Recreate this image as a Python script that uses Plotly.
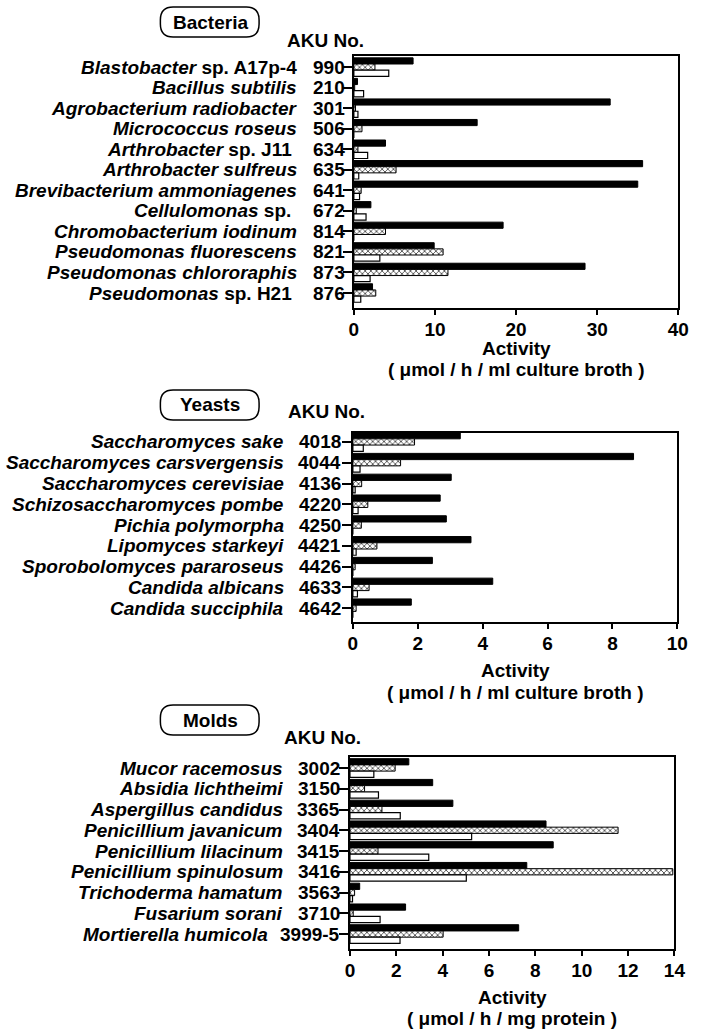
import plotly.graph_objects as go

W, H = 703, 1031

# ---------------- DATA ----------------
bact_italic = ["Blastobacter", "Bacillus subtilis", "Agrobacterium radiobacter", "Micrococcus roseus",
               "Arthrobacter", "Arthrobacter sulfreus", "Brevibacterium ammoniagenes", "Cellulomonas",
               "Chromobacterium iodinum", "Pseudomonas fluorescens", "Pseudomonas chlororaphis", "Pseudomonas"]
bact_suffix = [" sp. A17p-4", "", "", "", " sp. J11 ", "", "", " sp. ", "", "", "", " sp. H21 "]
bact_aku = ["990", "210", "301", "506", "634", "635", "641", "672", "814", "821", "873", "876"]
bact_black = [7.3, 0.45, 31.6, 15.2, 3.9, 35.6, 35.0, 2.1, 18.4, 9.9, 28.5, 2.3]
bact_hatched = [2.6, 0.1, 0.2, 1.0, 0.5, 5.2, 0.9, 0.3, 3.9, 11.0, 11.6, 2.7]
bact_white = [4.3, 1.2, 0.5, 0.0, 1.7, 0.6, 0.7, 1.5, 0.0, 3.2, 2.0, 0.85]

yeast_italic = ["Saccharomyces sake", "Saccharomyces carsvergensis", "Saccharomyces cerevisiae",
                "Schizosaccharomyces pombe", "Pichia polymorpha", "Lipomyces starkeyi",
                "Sporobolomyces pararoseus", "Candida albicans", "Candida succiphila"]
yeast_aku = ["4018", "4044", "4136", "4220", "4250", "4421", "4426", "4633", "4642"]
yeast_black = [3.31, 8.65, 3.03, 2.69, 2.88, 3.64, 2.45, 4.31, 1.80]
yeast_hatched = [1.90, 1.47, 0.27, 0.46, 0.26, 0.74, 0.07, 0.50, 0.10]
yeast_white = [0.32, 0.22, 0.07, 0.16, 0.0, 0.10, 0.0, 0.14, 0.0]

mold_italic = ["Mucor racemosus", "Absidia lichtheimi", "Aspergillus candidus", "Penicillium javanicum",
               "Penicillium lilacinum", "Penicillium spinulosum", "Trichoderma hamatum",
               "Fusarium sorani", "Mortierella humicola"]
mold_aku = ["3002", "3150", "3365", "3404", "3415", "3416", "3563", "3710", "3999-5"]
mold_black = [2.54, 3.57, 4.44, 8.46, 8.77, 7.63, 0.42, 2.40, 7.28]
mold_hatched = [1.95, 0.63, 1.38, 11.57, 1.21, 13.93, 0.20, 0.14, 4.02]
mold_white = [1.03, 1.23, 2.17, 5.25, 3.40, 5.02, 0.11, 1.30, 2.16]

x_ticks_bact = [0, 10, 20, 30, 40]
x_ticks_yeast = [0, 2, 4, 6, 8, 10]
x_ticks_mold = [0, 2, 4, 6, 8, 10, 12, 14]

# ---------------- LAYOUT HELPERS ----------------
FONT = "Liberation Sans"


def px(x):
    return x / W


def py(y):
    return 1 - y / H


panels = [
    dict(key="", group="Bacteria", italic=bact_italic, suffix=bact_suffix, aku=bact_aku,
         vals=(bact_black, bact_hatched, bact_white), xr=[0, 40], xt=x_ticks_bact,
         xdom=(357, 689), ydom=(56, 308), yr=[11.73, -0.54],
         name_x=301, num_x=350, box_cy=22, aku_pos=(328, 40),
         t1=348, t2=369, unit="( μmol / h / ml culture broth )"),
    dict(key="2", group="Yeasts", italic=yeast_italic, suffix=[""] * 9, aku=yeast_aku,
         vals=(yeast_black, yeast_hatched, yeast_white), xr=[0, 10], xt=x_ticks_yeast,
         xdom=(356, 688), ydom=(433, 622), yr=[8.66, -0.43],
         name_x=288, num_x=346, box_cy=405, aku_pos=(329, 411),
         t1=670, t2=692, unit="( μmol / h / ml culture broth )"),
    dict(key="3", group="Molds", italic=mold_italic, suffix=[""] * 9, aku=mold_aku,
         vals=(mold_black, mold_hatched, mold_white), xr=[0, 14], xt=x_ticks_mold,
         xdom=(353, 685), ydom=(757, 949), yr=[8.72, -0.53],
         name_x=287, num_x=345, box_cy=720, aku_pos=(325, 737),
         t1=997, t2=1018, unit="( μmol / h / mg protein )"),
]

fig = go.Figure()
annotations = []
shapes = []
bold = dict(family=FONT, size=19, color="black", weight="bold")

for p in panels:
    k = p["key"]
    xa = "x" + k
    ya = "y" + k
    n = len(p["aku"])
    rows = list(range(n))
    black, hatched, white = p["vals"]
    fig.add_trace(go.Bar(x=black, y=rows, orientation="h", xaxis=xa, yaxis=ya,
                         marker=dict(color="black", line=dict(color="black", width=1)),
                         showlegend=False, hoverinfo="x"))
    fig.add_trace(go.Bar(x=hatched, y=rows, orientation="h", xaxis=xa, yaxis=ya,
                         marker=dict(color="white", line=dict(color="black", width=1),
                                     pattern=dict(shape="x", fgcolor="#333", bgcolor="white",
                                                  size=4, solidity=0.35, fillmode="replace")),
                         showlegend=False, hoverinfo="x"))
    fig.add_trace(go.Bar(x=white, y=rows, orientation="h", xaxis=xa, yaxis=ya,
                         marker=dict(color="white", line=dict(color="black", width=1.2)),
                         showlegend=False, hoverinfo="x"))

    fig.update_layout(**{
        "xaxis" + k: dict(domain=[px(p["xdom"][0]), px(p["xdom"][1])], range=p["xr"],
                          tickvals=p["xt"], anchor=ya, showline=True, linecolor="black",
                          linewidth=2, mirror=True, ticks="outside", ticklen=5, tickwidth=2,
                          tickcolor="black", tickfont=bold, showgrid=False, zeroline=False,
                          ticklabelstandoff=-2, fixedrange=True),
        "yaxis" + k: dict(domain=[py(p["ydom"][1]), py(p["ydom"][0])], range=p["yr"],
                          tickvals=rows, showticklabels=False, anchor=xa, showline=True,
                          linecolor="black", linewidth=2, mirror=True, ticks="outside",
                          ticklen=9, tickwidth=1.5, tickcolor="black", showgrid=False,
                          zeroline=False, fixedrange=True),
    })

    for i in rows:
        shift = 16 if len(p["aku"][i]) > 4 else 0
        annotations.append(dict(x=px(p["name_x"] - shift), y=i, xref="paper", yref=ya,
                                text="<i>%s</i>%s" % (p["italic"][i], p["suffix"][i]),
                                xanchor="right", yanchor="middle", showarrow=False, font=bold))
        annotations.append(dict(x=px(p["num_x"]), y=i, xref="paper", yref=ya,
                                text=p["aku"][i], xanchor="right", yanchor="middle",
                                showarrow=False, font=bold))

    # group label in rounded box
    cx, cy = 210, p["box_cy"]
    x0, x1 = 159, 260
    y0, y1 = cy - 15, cy + 15
    r = 13
    path = ("M {a},{b} L {c},{b} Q {x1},{b} {x1},{d} L {x1},{e} Q {x1},{f} {c},{f} "
            "L {a},{f} Q {x0},{f} {x0},{e} L {x0},{d} Q {x0},{b} {a},{b} Z").format(
        a=px(x0 + r), c=px(x1 - r), b=py(y0), d=py(y0 + r), e=py(y1 - r), f=py(y1),
        x0=px(x0), x1=px(x1))
    shapes.append(dict(type="path", xref="paper", yref="paper", path=path,
                       line=dict(color="black", width=1.5)))
    annotations.append(dict(x=px(cx), y=py(cy), xref="paper", yref="paper", text=p["group"],
                            xanchor="center", yanchor="middle", showarrow=False, font=bold))
    annotations.append(dict(x=px(p["aku_pos"][0]), y=py(p["aku_pos"][1]), xref="paper",
                            yref="paper", text="AKU No.", xanchor="center", yanchor="middle",
                            showarrow=False, font=bold))
    xc = (p["xdom"][0] + p["xdom"][1]) / 2
    annotations.append(dict(x=px(xc), y=py(p["t1"]), xref="paper", yref="paper",
                            text="Activity", xanchor="center", yanchor="middle",
                            showarrow=False, font=bold))
    annotations.append(dict(x=px(xc), y=py(p["t2"]), xref="paper", yref="paper",
                            text=p["unit"], xanchor="center", yanchor="middle",
                            showarrow=False, font=bold))

fig.update_layout(width=W, height=H, margin=dict(l=0, r=0, t=0, b=0),
                  paper_bgcolor="white", plot_bgcolor="white",
                  barmode="group", bargap=0.1, bargroupgap=0,
                  annotations=annotations, shapes=shapes, font=dict(family=FONT))

# remove the browser's default page margin so the figure sits at the window origin
fig.write_html("out.html", config={"displayModeBar": False},
               post_script="document.body.style.margin='0';")
